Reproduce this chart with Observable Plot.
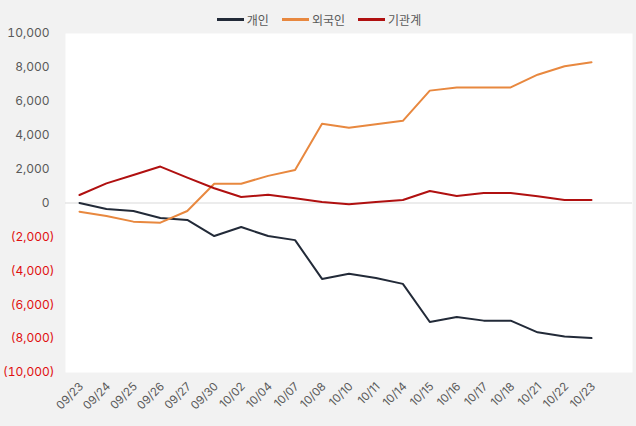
<!DOCTYPE html>
<html>
<head>
<meta charset="utf-8">
<script src="https://cdn.jsdelivr.net/npm/d3@7"></script>
<script src="https://cdn.jsdelivr.net/npm/@observablehq/plot@0.6"></script>
<style>
  html, body { margin: 0; padding: 0; background: #f2f2f2; }
  #wrap { position: relative; width: 636px; height: 426px; font-family: Inter, "Noto Sans CJK KR", sans-serif; }
  #legend { position: absolute; top: 11px; left: 0; width: 636px; display: flex; justify-content: center; gap: 13px; font-size: 12px; color: #595959; padding-left: 2px; box-sizing: border-box; }
  .item { display: flex; align-items: center; gap: 3px; }
  .sw { width: 27px; height: 2.5px; display: inline-block; }
</style>
</head>
<body>
<div id="wrap"><div id="legend"></div></div>
<script>
const dates = ["09/23","09/24","09/25","09/26","09/27","09/30","10/02","10/04","10/07","10/08","10/10","10/11","10/14","10/15","10/16","10/17","10/18","10/21","10/22","10/23"];
const individual = [0,-350,-470,-880,-1000,-1950,-1420,-1950,-2190,-4480,-4180,-4420,-4770,-7020,-6730,-6940,-6940,-7630,-7870,-7970];
const foreign = [-510,-770,-1100,-1160,-470,1140,1140,1600,1950,4680,4440,4650,4850,6630,6820,6820,6820,7570,8070,8300];
const institution = [470,1160,1650,2150,1500,870,350,490,280,60,-80,60,180,710,410,590,590,400,180,180];
const seriesNames = ["개인","외국인","기관계"];
const seriesColors = ["#222a38","#e8883f","#b01010"];
const posTicks = [0,2000,4000,6000,8000,10000];
const negTicks = [-2000,-4000,-6000,-8000,-10000];

const seriesValues = [individual, foreign, institution];
const tables = seriesValues.map(vals => dates.map((d, i) => ({date: d, value: vals[i]})));

const fmt = d3.format(",");
const chart = Plot.plot({
  width: 636,
  height: 426,
  marginLeft: 65,
  marginRight: 4,
  marginTop: 33,
  marginBottom: 54,
  style: {background: "transparent", fontFamily: 'Inter, "Noto Sans CJK KR", sans-serif', fontSize: "12px", color: "#595959"},
  x: {type: "point", domain: dates, range: [79, 591], padding: 0, round: false, label: null},
  y: {domain: [-10000, 10000], label: null},
  marks: [
    Plot.frame({fill: "white", stroke: null}),
    Plot.ruleY([0], {stroke: "#d9d9d9", strokeWidth: 1}),
    ...tables.map((t, i) => Plot.line(t, {x: "date", y: "value", stroke: seriesColors[i], strokeWidth: 2})),
    Plot.axisY({ticks: posTicks, tickSize: 0, tickPadding: 16, tickFormat: d => fmt(d), fill: "#595959", fontSize: 12, label: null}),
    Plot.axisY({ticks: negTicks, tickSize: 0, tickPadding: 11, tickFormat: d => `(${fmt(-d)})`, fill: "#e01010", fontSize: 12, label: null}),
    Plot.axisX({tickSize: 0, tickRotate: -45, tickPadding: 12, dx: 2, fill: "#595959", fontSize: 11.5, label: null})
  ]
});
document.getElementById("wrap").appendChild(chart);
chart.style.position = "absolute";
chart.style.left = "0";
chart.style.top = "0";

const legend = document.getElementById("legend");
seriesNames.forEach((n, i) => {
  const it = document.createElement("div");
  it.className = "item";
  const sw = document.createElement("span");
  sw.className = "sw";
  sw.style.background = seriesColors[i];
  const tx = document.createElement("span");
  tx.textContent = n;
  it.appendChild(sw); it.appendChild(tx);
  legend.appendChild(it);
});
</script>
</body>
</html>
